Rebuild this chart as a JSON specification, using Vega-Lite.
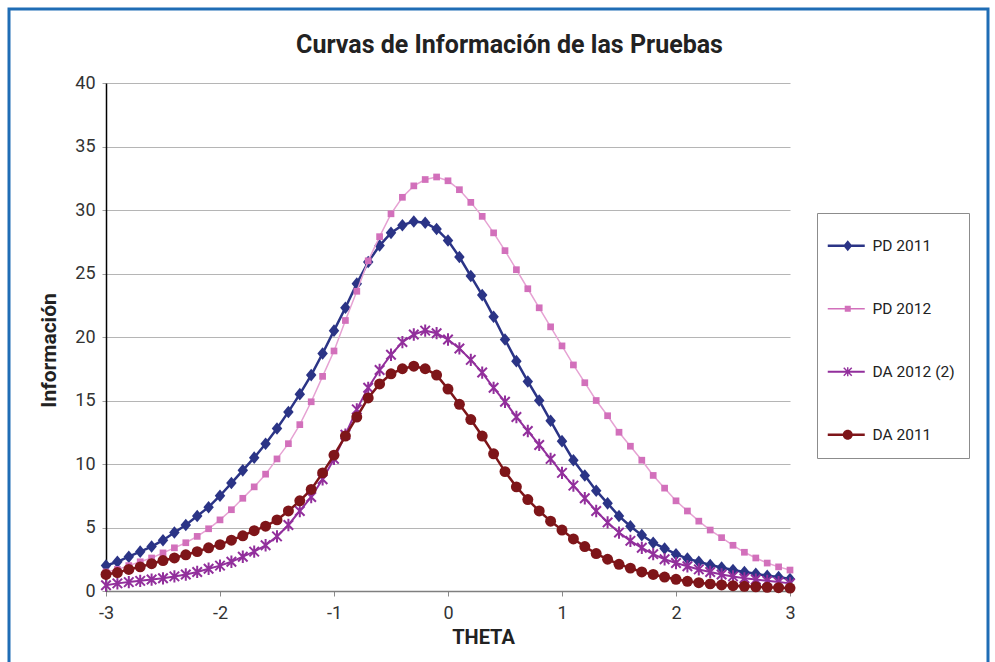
{
 "$schema": "https://vega.github.io/schema/vega-lite/v6.json",
 "width": 979,
 "height": 655,
 "autosize": {"type": "none"},
 "padding": {"left": 9, "top": 9, "right": 7, "bottom": -2},
 "background": "white",
 "config": {"view": {"stroke": "#1f6db5", "strokeWidth": 3}},
 "title": {"text": "Curvas de Información de las Pruebas", "anchor": "middle", "orient": "top", "offset": -40, "dy": 29, "baseline": "alphabetic", "dx": 11, "font": "Roboto", "fontSize": 25, "fontWeight": "bold", "color": "#222222"},
 "data": {"values": [
  {"serie":"PD 2011","theta":-3.0,"info":2.0},{"serie":"PD 2011","theta":-2.9,"info":2.3},{"serie":"PD 2011","theta":-2.8,"info":2.7},{"serie":"PD 2011","theta":-2.7,"info":3.1},{"serie":"PD 2011","theta":-2.6,"info":3.5},{"serie":"PD 2011","theta":-2.5,"info":4.0},{"serie":"PD 2011","theta":-2.4,"info":4.6},{"serie":"PD 2011","theta":-2.3,"info":5.2},{"serie":"PD 2011","theta":-2.2,"info":5.9},{"serie":"PD 2011","theta":-2.1,"info":6.6},{"serie":"PD 2011","theta":-2.0,"info":7.5},{"serie":"PD 2011","theta":-1.9,"info":8.5},{"serie":"PD 2011","theta":-1.8,"info":9.5},{"serie":"PD 2011","theta":-1.7,"info":10.5},{"serie":"PD 2011","theta":-1.6,"info":11.6},{"serie":"PD 2011","theta":-1.5,"info":12.8},{"serie":"PD 2011","theta":-1.4,"info":14.1},{"serie":"PD 2011","theta":-1.3,"info":15.5},{"serie":"PD 2011","theta":-1.2,"info":17.0},{"serie":"PD 2011","theta":-1.1,"info":18.7},{"serie":"PD 2011","theta":-1.0,"info":20.5},{"serie":"PD 2011","theta":-0.9,"info":22.3},{"serie":"PD 2011","theta":-0.8,"info":24.2},{"serie":"PD 2011","theta":-0.7,"info":25.9},{"serie":"PD 2011","theta":-0.6,"info":27.2},{"serie":"PD 2011","theta":-0.5,"info":28.2},{"serie":"PD 2011","theta":-0.4,"info":28.8},{"serie":"PD 2011","theta":-0.3,"info":29.1},{"serie":"PD 2011","theta":-0.2,"info":29.0},{"serie":"PD 2011","theta":-0.1,"info":28.5},{"serie":"PD 2011","theta":0.0,"info":27.6},{"serie":"PD 2011","theta":0.1,"info":26.3},{"serie":"PD 2011","theta":0.2,"info":24.8},{"serie":"PD 2011","theta":0.3,"info":23.3},{"serie":"PD 2011","theta":0.4,"info":21.6},{"serie":"PD 2011","theta":0.5,"info":19.8},{"serie":"PD 2011","theta":0.6,"info":18.1},{"serie":"PD 2011","theta":0.7,"info":16.5},{"serie":"PD 2011","theta":0.8,"info":15.0},{"serie":"PD 2011","theta":0.9,"info":13.4},{"serie":"PD 2011","theta":1.0,"info":11.8},{"serie":"PD 2011","theta":1.1,"info":10.3},{"serie":"PD 2011","theta":1.2,"info":9.1},{"serie":"PD 2011","theta":1.3,"info":7.9},{"serie":"PD 2011","theta":1.4,"info":6.9},{"serie":"PD 2011","theta":1.5,"info":5.9},{"serie":"PD 2011","theta":1.6,"info":5.1},{"serie":"PD 2011","theta":1.7,"info":4.4},{"serie":"PD 2011","theta":1.8,"info":3.8},{"serie":"PD 2011","theta":1.9,"info":3.35},{"serie":"PD 2011","theta":2.0,"info":2.9},{"serie":"PD 2011","theta":2.1,"info":2.55},{"serie":"PD 2011","theta":2.2,"info":2.3},{"serie":"PD 2011","theta":2.3,"info":2.05},{"serie":"PD 2011","theta":2.4,"info":1.85},{"serie":"PD 2011","theta":2.5,"info":1.65},{"serie":"PD 2011","theta":2.6,"info":1.5},{"serie":"PD 2011","theta":2.7,"info":1.35},{"serie":"PD 2011","theta":2.8,"info":1.2},{"serie":"PD 2011","theta":2.9,"info":1.1},{"serie":"PD 2011","theta":3.0,"info":0.95},
  {"serie":"PD 2012","theta":-3.0,"info":1.5},{"serie":"PD 2012","theta":-2.9,"info":1.7},{"serie":"PD 2012","theta":-2.8,"info":2.0},{"serie":"PD 2012","theta":-2.7,"info":2.3},{"serie":"PD 2012","theta":-2.6,"info":2.6},{"serie":"PD 2012","theta":-2.5,"info":3.0},{"serie":"PD 2012","theta":-2.4,"info":3.4},{"serie":"PD 2012","theta":-2.3,"info":3.8},{"serie":"PD 2012","theta":-2.2,"info":4.3},{"serie":"PD 2012","theta":-2.1,"info":4.9},{"serie":"PD 2012","theta":-2.0,"info":5.6},{"serie":"PD 2012","theta":-1.9,"info":6.4},{"serie":"PD 2012","theta":-1.8,"info":7.3},{"serie":"PD 2012","theta":-1.7,"info":8.2},{"serie":"PD 2012","theta":-1.6,"info":9.2},{"serie":"PD 2012","theta":-1.5,"info":10.4},{"serie":"PD 2012","theta":-1.4,"info":11.6},{"serie":"PD 2012","theta":-1.3,"info":13.1},{"serie":"PD 2012","theta":-1.2,"info":14.9},{"serie":"PD 2012","theta":-1.1,"info":16.9},{"serie":"PD 2012","theta":-1.0,"info":18.9},{"serie":"PD 2012","theta":-0.9,"info":21.3},{"serie":"PD 2012","theta":-0.8,"info":23.6},{"serie":"PD 2012","theta":-0.7,"info":26.0},{"serie":"PD 2012","theta":-0.6,"info":27.9},{"serie":"PD 2012","theta":-0.5,"info":29.7},{"serie":"PD 2012","theta":-0.4,"info":31.0},{"serie":"PD 2012","theta":-0.3,"info":31.9},{"serie":"PD 2012","theta":-0.2,"info":32.4},{"serie":"PD 2012","theta":-0.1,"info":32.6},{"serie":"PD 2012","theta":0.0,"info":32.3},{"serie":"PD 2012","theta":0.1,"info":31.6},{"serie":"PD 2012","theta":0.2,"info":30.6},{"serie":"PD 2012","theta":0.3,"info":29.5},{"serie":"PD 2012","theta":0.4,"info":28.2},{"serie":"PD 2012","theta":0.5,"info":26.8},{"serie":"PD 2012","theta":0.6,"info":25.3},{"serie":"PD 2012","theta":0.7,"info":23.8},{"serie":"PD 2012","theta":0.8,"info":22.3},{"serie":"PD 2012","theta":0.9,"info":20.8},{"serie":"PD 2012","theta":1.0,"info":19.3},{"serie":"PD 2012","theta":1.1,"info":17.8},{"serie":"PD 2012","theta":1.2,"info":16.4},{"serie":"PD 2012","theta":1.3,"info":15.0},{"serie":"PD 2012","theta":1.4,"info":13.8},{"serie":"PD 2012","theta":1.5,"info":12.5},{"serie":"PD 2012","theta":1.6,"info":11.4},{"serie":"PD 2012","theta":1.7,"info":10.3},{"serie":"PD 2012","theta":1.8,"info":9.1},{"serie":"PD 2012","theta":1.9,"info":8.1},{"serie":"PD 2012","theta":2.0,"info":7.1},{"serie":"PD 2012","theta":2.1,"info":6.3},{"serie":"PD 2012","theta":2.2,"info":5.5},{"serie":"PD 2012","theta":2.3,"info":4.8},{"serie":"PD 2012","theta":2.4,"info":4.2},{"serie":"PD 2012","theta":2.5,"info":3.6},{"serie":"PD 2012","theta":2.6,"info":3.05},{"serie":"PD 2012","theta":2.7,"info":2.6},{"serie":"PD 2012","theta":2.8,"info":2.2},{"serie":"PD 2012","theta":2.9,"info":1.9},{"serie":"PD 2012","theta":3.0,"info":1.65},
  {"serie":"DA 2012 (2)","theta":-3.0,"info":0.45},{"serie":"DA 2012 (2)","theta":-2.9,"info":0.6},{"serie":"DA 2012 (2)","theta":-2.8,"info":0.7},{"serie":"DA 2012 (2)","theta":-2.7,"info":0.8},{"serie":"DA 2012 (2)","theta":-2.6,"info":0.9},{"serie":"DA 2012 (2)","theta":-2.5,"info":1.0},{"serie":"DA 2012 (2)","theta":-2.4,"info":1.15},{"serie":"DA 2012 (2)","theta":-2.3,"info":1.3},{"serie":"DA 2012 (2)","theta":-2.2,"info":1.5},{"serie":"DA 2012 (2)","theta":-2.1,"info":1.75},{"serie":"DA 2012 (2)","theta":-2.0,"info":2.0},{"serie":"DA 2012 (2)","theta":-1.9,"info":2.3},{"serie":"DA 2012 (2)","theta":-1.8,"info":2.7},{"serie":"DA 2012 (2)","theta":-1.7,"info":3.1},{"serie":"DA 2012 (2)","theta":-1.6,"info":3.6},{"serie":"DA 2012 (2)","theta":-1.5,"info":4.3},{"serie":"DA 2012 (2)","theta":-1.4,"info":5.2},{"serie":"DA 2012 (2)","theta":-1.3,"info":6.3},{"serie":"DA 2012 (2)","theta":-1.2,"info":7.4},{"serie":"DA 2012 (2)","theta":-1.1,"info":8.8},{"serie":"DA 2012 (2)","theta":-1.0,"info":10.4},{"serie":"DA 2012 (2)","theta":-0.9,"info":12.3},{"serie":"DA 2012 (2)","theta":-0.8,"info":14.3},{"serie":"DA 2012 (2)","theta":-0.7,"info":16.0},{"serie":"DA 2012 (2)","theta":-0.6,"info":17.4},{"serie":"DA 2012 (2)","theta":-0.5,"info":18.6},{"serie":"DA 2012 (2)","theta":-0.4,"info":19.6},{"serie":"DA 2012 (2)","theta":-0.3,"info":20.2},{"serie":"DA 2012 (2)","theta":-0.2,"info":20.5},{"serie":"DA 2012 (2)","theta":-0.1,"info":20.3},{"serie":"DA 2012 (2)","theta":0.0,"info":19.8},{"serie":"DA 2012 (2)","theta":0.1,"info":19.1},{"serie":"DA 2012 (2)","theta":0.2,"info":18.2},{"serie":"DA 2012 (2)","theta":0.3,"info":17.2},{"serie":"DA 2012 (2)","theta":0.4,"info":16.0},{"serie":"DA 2012 (2)","theta":0.5,"info":14.9},{"serie":"DA 2012 (2)","theta":0.6,"info":13.7},{"serie":"DA 2012 (2)","theta":0.7,"info":12.6},{"serie":"DA 2012 (2)","theta":0.8,"info":11.5},{"serie":"DA 2012 (2)","theta":0.9,"info":10.4},{"serie":"DA 2012 (2)","theta":1.0,"info":9.3},{"serie":"DA 2012 (2)","theta":1.1,"info":8.3},{"serie":"DA 2012 (2)","theta":1.2,"info":7.3},{"serie":"DA 2012 (2)","theta":1.3,"info":6.3},{"serie":"DA 2012 (2)","theta":1.4,"info":5.4},{"serie":"DA 2012 (2)","theta":1.5,"info":4.6},{"serie":"DA 2012 (2)","theta":1.6,"info":3.95},{"serie":"DA 2012 (2)","theta":1.7,"info":3.4},{"serie":"DA 2012 (2)","theta":1.8,"info":2.9},{"serie":"DA 2012 (2)","theta":1.9,"info":2.5},{"serie":"DA 2012 (2)","theta":2.0,"info":2.2},{"serie":"DA 2012 (2)","theta":2.1,"info":1.95},{"serie":"DA 2012 (2)","theta":2.2,"info":1.7},{"serie":"DA 2012 (2)","theta":2.3,"info":1.5},{"serie":"DA 2012 (2)","theta":2.4,"info":1.3},{"serie":"DA 2012 (2)","theta":2.5,"info":1.15},{"serie":"DA 2012 (2)","theta":2.6,"info":1.0},{"serie":"DA 2012 (2)","theta":2.7,"info":0.9},{"serie":"DA 2012 (2)","theta":2.8,"info":0.8},{"serie":"DA 2012 (2)","theta":2.9,"info":0.7},{"serie":"DA 2012 (2)","theta":3.0,"info":0.6},
  {"serie":"DA 2011","theta":-3.0,"info":1.3},{"serie":"DA 2011","theta":-2.9,"info":1.45},{"serie":"DA 2011","theta":-2.8,"info":1.7},{"serie":"DA 2011","theta":-2.7,"info":1.9},{"serie":"DA 2011","theta":-2.6,"info":2.15},{"serie":"DA 2011","theta":-2.5,"info":2.4},{"serie":"DA 2011","theta":-2.4,"info":2.6},{"serie":"DA 2011","theta":-2.3,"info":2.85},{"serie":"DA 2011","theta":-2.2,"info":3.1},{"serie":"DA 2011","theta":-2.1,"info":3.4},{"serie":"DA 2011","theta":-2.0,"info":3.65},{"serie":"DA 2011","theta":-1.9,"info":4.0},{"serie":"DA 2011","theta":-1.8,"info":4.35},{"serie":"DA 2011","theta":-1.7,"info":4.75},{"serie":"DA 2011","theta":-1.6,"info":5.1},{"serie":"DA 2011","theta":-1.5,"info":5.6},{"serie":"DA 2011","theta":-1.4,"info":6.3},{"serie":"DA 2011","theta":-1.3,"info":7.1},{"serie":"DA 2011","theta":-1.2,"info":8.0},{"serie":"DA 2011","theta":-1.1,"info":9.3},{"serie":"DA 2011","theta":-1.0,"info":10.7},{"serie":"DA 2011","theta":-0.9,"info":12.2},{"serie":"DA 2011","theta":-0.8,"info":13.7},{"serie":"DA 2011","theta":-0.7,"info":15.2},{"serie":"DA 2011","theta":-0.6,"info":16.3},{"serie":"DA 2011","theta":-0.5,"info":17.1},{"serie":"DA 2011","theta":-0.4,"info":17.5},{"serie":"DA 2011","theta":-0.3,"info":17.7},{"serie":"DA 2011","theta":-0.2,"info":17.5},{"serie":"DA 2011","theta":-0.1,"info":17.0},{"serie":"DA 2011","theta":0.0,"info":15.9},{"serie":"DA 2011","theta":0.1,"info":14.7},{"serie":"DA 2011","theta":0.2,"info":13.5},{"serie":"DA 2011","theta":0.3,"info":12.2},{"serie":"DA 2011","theta":0.4,"info":10.8},{"serie":"DA 2011","theta":0.5,"info":9.4},{"serie":"DA 2011","theta":0.6,"info":8.2},{"serie":"DA 2011","theta":0.7,"info":7.2},{"serie":"DA 2011","theta":0.8,"info":6.3},{"serie":"DA 2011","theta":0.9,"info":5.5},{"serie":"DA 2011","theta":1.0,"info":4.8},{"serie":"DA 2011","theta":1.1,"info":4.1},{"serie":"DA 2011","theta":1.2,"info":3.5},{"serie":"DA 2011","theta":1.3,"info":2.95},{"serie":"DA 2011","theta":1.4,"info":2.5},{"serie":"DA 2011","theta":1.5,"info":2.1},{"serie":"DA 2011","theta":1.6,"info":1.8},{"serie":"DA 2011","theta":1.7,"info":1.5},{"serie":"DA 2011","theta":1.8,"info":1.3},{"serie":"DA 2011","theta":1.9,"info":1.1},{"serie":"DA 2011","theta":2.0,"info":0.92},{"serie":"DA 2011","theta":2.1,"info":0.76},{"serie":"DA 2011","theta":2.2,"info":0.65},{"serie":"DA 2011","theta":2.3,"info":0.56},{"serie":"DA 2011","theta":2.4,"info":0.48},{"serie":"DA 2011","theta":2.5,"info":0.42},{"serie":"DA 2011","theta":2.6,"info":0.37},{"serie":"DA 2011","theta":2.7,"info":0.33},{"serie":"DA 2011","theta":2.8,"info":0.29},{"serie":"DA 2011","theta":2.9,"info":0.26},{"serie":"DA 2011","theta":3.0,"info":0.23}
 ]},
 "encoding": {
  "x": {"field": "theta", "type": "quantitative",
   "scale": {"domain": [-3, 3], "range": [97, 781], "nice": false, "zero": false},
   "axis": {"title": "THETA", "orient": "bottom", "offset": -73, "values": [-3, -2, -1, 0, 1, 2, 3], "labelExpr": "'' + datum.value", "grid": false, "domainColor": "#7f7f7f", "domainWidth": 1.5, "tickColor": "#8a8a8a", "tickSize": 5, "labelFont": "Roboto", "labelFontSize": 18, "labelColor": "#333333", "labelPadding": 8, "labelFlush": false, "titleFont": "Roboto", "titleFontSize": 20, "titleFontWeight": "bold", "titleColor": "#222222", "titlePadding": 5, "titleX": 474}},
  "y": {"field": "info", "type": "quantitative",
   "scale": {"domain": [0, 40], "range": [582, 74], "nice": false, "zero": false},
   "axis": {"title": "Información", "orient": "left", "offset": -97, "values": [0, 5, 10, 15, 20, 25, 30, 35, 40], "grid": true, "gridColor": "#b5b5b5", "gridWidth": 1, "domainColor": "#000000", "domainWidth": 1.5, "tickColor": "#a0a0a0", "tickSize": 4, "labelFont": "Roboto", "labelFontSize": 18, "labelColor": "#333333", "labelPadding": 7, "labelFlush": false, "titleFont": "Roboto", "titleFontSize": 21, "titleFontWeight": "bold", "titleColor": "#222222", "titlePadding": 15, "titleY": 341}}
 },
 "layer": [
  {"transform": [{"filter": "datum.serie == 'PD 2011'"}],
   "layer": [
    {"mark": {"type": "line", "color": "#2b3486", "strokeWidth": 2.5}, "encoding": {}},
    {"mark": {"type": "point", "shape": "M0,-1.2L1,0L0,1.2L-1,0Z", "size": 110, "filled": true, "color": "#2b3486", "opacity": 1}, "encoding": {}}
   ]},
  {"transform": [{"filter": "datum.serie == 'PD 2012'"}],
   "layer": [
    {"mark": {"type": "line", "color": "#e6a2d3", "strokeWidth": 1.5}, "encoding": {}},
    {"mark": {"type": "point", "shape": "square", "size": 45, "filled": true, "color": "#d270bb", "opacity": 1}, "encoding": {}}
   ]},
  {"transform": [{"filter": "datum.serie == 'DA 2012 (2)'"}],
   "layer": [
    {"mark": {"type": "line", "color": "#922f9c", "strokeWidth": 2}, "encoding": {}},
    {"mark": {"type": "point", "shape": "M-1,-1L1,1M-1,1L1,-1M0,-1.3L0,1.3", "size": 90, "filled": false, "color": "#922f9c", "strokeWidth": 2, "opacity": 1}, "encoding": {}}
   ]},
  {"transform": [{"filter": "datum.serie == 'DA 2011'"}],
   "layer": [
    {"mark": {"type": "line", "color": "#7e1519", "strokeWidth": 2.5}, "encoding": {}},
    {"mark": {"type": "point", "shape": "circle", "size": 120, "filled": true, "color": "#7e1519", "opacity": 1}, "encoding": {}}
   ]},
  {"transform": [{"filter": "false"}],
   "mark": {"type": "point", "filled": true, "opacity": 1},
   "encoding": {
    "color": {"field": "serie", "type": "nominal",
     "scale": {"domain": ["PD 2011", "PD 2012", "DA 2012 (2)", "DA 2011"], "range": ["#2b3486", "#d270bb", "#922f9c", "#7e1519"]},
     "legend": {"title": " ", "orient": "none", "legendX": 808, "legendY": 204, "padding": 14, "strokeColor": "#8c8c8c", "fillColor": "white", "symbolSize": 4, "symbolStrokeWidth": 0, "symbolOpacity": 1, "labelOffset": 26, "labelFont": "Roboto", "labelFontSize": 15.5, "labelColor": "#222222", "rowPadding": 46, "titleFontSize": 8, "titlePadding": 3}},
    "shape": {"field": "serie", "type": "nominal",
     "scale": {"domain": ["PD 2011", "PD 2012", "DA 2012 (2)", "DA 2011"], "range": [
      "M-11,-1.3H26V1.3H-11ZM9,-5.5L13.5,0L9,5.5L4.5,0Z",
      "M-11,-0.7H26V0.7H-11ZM6,-3H12V3H6Z",
      "M-11,-1.1H26V1.1H-11ZM8.3,-4.5H9.7V4.5H8.3ZM5.5,-4.5L13.5,3.5L12.5,4.5L4.5,-3.5ZM13.5,-3.5L5.5,4.5L4.5,3.5L12.5,-4.5Z",
      "M-11,-1.2H26V1.2H-11ZM4,0A5,5 0 1,1 14,0A5,5 0 1,1 4,0Z"]}}
   }}
 ]
}
